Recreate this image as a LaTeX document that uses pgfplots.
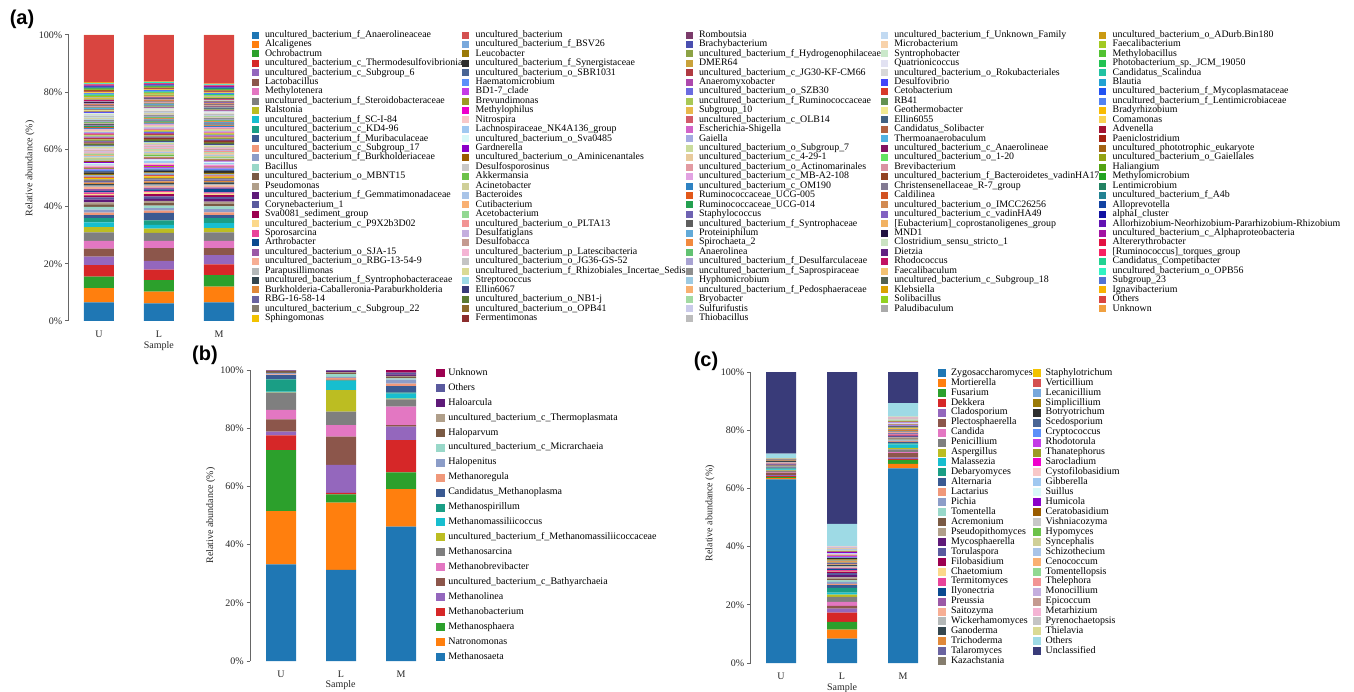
\documentclass[border=0pt]{standalone}
\usepackage{fontspec}
\setmainfont{Liberation Serif}
\newfontfamily\panelfont{Liberation Sans}
\usepackage{pgfplots}
\pgfplotsset{compat=1.18}
\definecolor{c1}{HTML}{1F77B4}\definecolor{c2}{HTML}{FF7F0E}\definecolor{c3}{HTML}{2CA02C}\definecolor{c4}{HTML}{D62728}
\definecolor{c5}{HTML}{9467BD}\definecolor{c6}{HTML}{8C564B}\definecolor{c7}{HTML}{E377C2}\definecolor{c8}{HTML}{7F7F7F}
\definecolor{c9}{HTML}{BCBD22}\definecolor{c10}{HTML}{17BECF}\definecolor{c11}{HTML}{1A9E85}\definecolor{c12}{HTML}{3A5A92}
\definecolor{c13}{HTML}{F0987A}\definecolor{c14}{HTML}{8C9DC8}\definecolor{c15}{HTML}{99D8C9}\definecolor{c16}{HTML}{7A5A44}
\definecolor{c17}{HTML}{B09F8A}\definecolor{c18}{HTML}{5E1A78}\definecolor{c19}{HTML}{5A5A9E}\definecolor{c20}{HTML}{9C0050}
\definecolor{c21}{HTML}{FBD88A}\definecolor{c22}{HTML}{E8449A}\definecolor{c23}{HTML}{0A4A90}\definecolor{c24}{HTML}{9B59A6}
\definecolor{c25}{HTML}{F7AE94}\definecolor{c26}{HTML}{B4B8B8}\definecolor{c27}{HTML}{35474F}\definecolor{c28}{HTML}{E0893A}
\definecolor{c29}{HTML}{6A63A0}\definecolor{c30}{HTML}{857D6E}\definecolor{c31}{HTML}{F2C200}\definecolor{c32}{HTML}{D45050}
\definecolor{c33}{HTML}{78A8DC}\definecolor{c34}{HTML}{9A7A08}\definecolor{c35}{HTML}{2E2E2E}\definecolor{c36}{HTML}{4A6594}
\definecolor{c37}{HTML}{5B8FF9}\definecolor{c38}{HTML}{C43BE6}\definecolor{c39}{HTML}{9B9B25}\definecolor{c40}{HTML}{EE00CC}
\definecolor{c41}{HTML}{F8C8C8}\definecolor{c42}{HTML}{A0C8F0}\definecolor{c43}{HTML}{D8F8F8}\definecolor{c44}{HTML}{8A00C8}
\definecolor{c45}{HTML}{9A5C00}\definecolor{c46}{HTML}{C8C8C8}\definecolor{c47}{HTML}{6CC24A}\definecolor{c48}{HTML}{CFCF98}
\definecolor{c49}{HTML}{A9C4E8}\definecolor{c50}{HTML}{F9B072}\definecolor{c51}{HTML}{92D892}\definecolor{c52}{HTML}{F29494}
\definecolor{c53}{HTML}{C4AEDE}\definecolor{c54}{HTML}{C49A90}\definecolor{c55}{HTML}{F4B4D4}\definecolor{c56}{HTML}{C4C4C4}
\definecolor{c57}{HTML}{DADA94}\definecolor{c58}{HTML}{9EDAE5}\definecolor{c59}{HTML}{393B79}\definecolor{c60}{HTML}{5A7A32}
\definecolor{c61}{HTML}{8C6A2A}\definecolor{c62}{HTML}{8C2D2D}\definecolor{c63}{HTML}{7B3B6B}\definecolor{c64}{HTML}{4A4FB0}
\definecolor{c65}{HTML}{8CA245}\definecolor{c66}{HTML}{C9A23A}\definecolor{c67}{HTML}{B03A42}\definecolor{c68}{HTML}{AD48AD}
\definecolor{c69}{HTML}{6B6BE0}\definecolor{c70}{HTML}{A8C855}\definecolor{c71}{HTML}{E8B84C}\definecolor{c72}{HTML}{D25A6A}
\definecolor{c73}{HTML}{D264C8}\definecolor{c74}{HTML}{A4AAE2}\definecolor{c75}{HTML}{CADC9C}\definecolor{c76}{HTML}{E8CA9C}
\definecolor{c77}{HTML}{E29AA2}\definecolor{c78}{HTML}{E2A2E2}\definecolor{c79}{HTML}{2E82C2}\definecolor{c80}{HTML}{E2581A}
\definecolor{c81}{HTML}{24A050}\definecolor{c82}{HTML}{6E62B2}\definecolor{c83}{HTML}{5E5E5E}\definecolor{c84}{HTML}{62AAD8}
\definecolor{c85}{HTML}{F28A3E}\definecolor{c86}{HTML}{62C272}\definecolor{c87}{HTML}{A8A2D2}\definecolor{c88}{HTML}{8E8E8E}
\definecolor{c89}{HTML}{9CCAE2}\definecolor{c90}{HTML}{F8B070}\definecolor{c91}{HTML}{A2DAA2}\definecolor{c92}{HTML}{CACAEA}
\definecolor{c93}{HTML}{BCBCBC}\definecolor{c94}{HTML}{C2DAF2}\definecolor{c95}{HTML}{F8D2AA}\definecolor{c96}{HTML}{CAE8CA}
\definecolor{c97}{HTML}{E2E2F2}\definecolor{c98}{HTML}{D8D8D8}\definecolor{c99}{HTML}{4444F8}\definecolor{c100}{HTML}{D83A2A}
\definecolor{c101}{HTML}{629252}\definecolor{c102}{HTML}{F2EA92}\definecolor{c103}{HTML}{426282}\definecolor{c104}{HTML}{B26242}
\definecolor{c105}{HTML}{52B2E2}\definecolor{c106}{HTML}{821262}\definecolor{c107}{HTML}{62E262}\definecolor{c108}{HTML}{DA92A2}
\definecolor{c109}{HTML}{924222}\definecolor{c110}{HTML}{827A92}\definecolor{c111}{HTML}{D25222}\definecolor{c112}{HTML}{D28A52}
\definecolor{c113}{HTML}{8262C2}\definecolor{c114}{HTML}{F2B262}\definecolor{c115}{HTML}{221242}\definecolor{c116}{HTML}{CAE2C2}
\definecolor{c117}{HTML}{622282}\definecolor{c118}{HTML}{C21262}\definecolor{c119}{HTML}{F2C272}\definecolor{c120}{HTML}{526252}
\definecolor{c121}{HTML}{DAA202}\definecolor{c122}{HTML}{92D222}\definecolor{c123}{HTML}{AAAAAA}\definecolor{c124}{HTML}{CA9A12}
\definecolor{c125}{HTML}{A2CA22}\definecolor{c126}{HTML}{52C232}\definecolor{c127}{HTML}{22C252}\definecolor{c128}{HTML}{22C2A2}
\definecolor{c129}{HTML}{22A2D2}\definecolor{c130}{HTML}{2252F2}\definecolor{c131}{HTML}{5282F2}\definecolor{c132}{HTML}{F8BA02}
\definecolor{c133}{HTML}{F8D252}\definecolor{c134}{HTML}{A21232}\definecolor{c135}{HTML}{A22212}\definecolor{c136}{HTML}{A26212}
\definecolor{c137}{HTML}{92A212}\definecolor{c138}{HTML}{52A212}\definecolor{c139}{HTML}{22A222}\definecolor{c140}{HTML}{228262}
\definecolor{c141}{HTML}{228292}\definecolor{c142}{HTML}{1242A2}\definecolor{c143}{HTML}{1212A2}\definecolor{c144}{HTML}{6212B2}
\definecolor{c145}{HTML}{A212A2}\definecolor{c146}{HTML}{E21242}\definecolor{c147}{HTML}{F82262}\definecolor{c148}{HTML}{22D292}
\definecolor{c149}{HTML}{32F2C2}\definecolor{c150}{HTML}{5272D2}\definecolor{c151}{HTML}{F8B202}\definecolor{c152}{HTML}{D94540}
\definecolor{c153}{HTML}{F0A040}
\definecolor{axgray}{HTML}{666666}
\pgfplotsset{
  sqA/.style={legend image code/.code={\fill[##1,draw=none] (0pt,-3.5pt) rectangle (7pt,3.5pt);\path (13.3pt,0pt);}},
  sqB/.style={legend image code/.code={\fill[##1,draw=none] (0pt,-4pt) rectangle (9pt,4pt);\path (12.3pt,0pt);}},
  sqC/.style={legend image code/.code={\fill[##1,draw=none] (0pt,-4pt) rectangle (8pt,4pt);\path (13pt,0pt);}},
  stackbase/.style={
    ybar stacked, scale only axis, bar width=30pt,
    ymin=0, ymax=100, ytick={0,20,40,60,80,100},
    yticklabels={0\%,20\%,40\%,60\%,80\%,100\%},
    xtick={0,1,2}, xticklabels={U,L,M},
    axis x line*=bottom, axis y line*=left,
    x axis line style={draw=none},
    y axis line style={-, draw=axgray, line width=1pt},
    xtick style={draw=none},
    ytick style={draw=axgray, line width=1pt},
    tick align=outside, major tick length=3.5pt,
    tick label style={font=\fontsize{10}{12}\selectfont, text=black!85},
    label style={font=\fontsize{10}{12}\selectfont, text=black!85},
    yticklabel style={anchor=east, inner sep=0pt, xshift=-2.5pt},
    xticklabel style={anchor=north, inner sep=0pt, yshift=-6pt},
    ylabel={Relative abundance (\%)},
    xlabel={Sample},
    legend cell align=left,
    legend style={draw=none, fill=none, inner sep=0pt, outer sep=0pt,
      nodes={inner sep=0pt, outer sep=0pt}, row sep=0pt, column sep=0pt,
      /tikz/every even column/.append style={column sep=0pt}},
  },
}
\begin{document}
\begin{tikzpicture}
\useasboundingbox (0pt,0pt) rectangle (1354pt,-692pt);
% ---------------- (a) ----------------
\begin{axis}[stackbase, at={(68.5pt,-321pt)}, anchor=south west,
  width=180.5pt, height=286pt, xmin=-0.508, xmax=2.5,
  ylabel style={at={(axis description cs:-0.2133,0.533)}, anchor=center},
  xlabel style={at={(axis description cs:0.5,-0.0874)}, anchor=center},
  legend style={at={(axis description cs:1.015,1.0164)}, anchor=north west,
    font=\fontsize{9.9}{9.9}\selectfont, nodes={text height=6.97pt, text depth=2.47pt}},
  transpose legend, legend columns=31,
  bb/.style={fill=#1, draw=none, sqA}]
\addplot[bb=c1] coordinates {(0,6.5)(1,6.2)(2,6.5)};\addlegendentry{uncultured\_bacterium\_f\_Anaerolineaceae}
\addplot[bb=c2] coordinates {(0,5.0)(1,4.1)(2,5.5)};\addlegendentry{Alcaligenes}
\addplot[bb=c3] coordinates {(0,4.0)(1,4.0)(2,4.0)};\addlegendentry{Ochrobactrum}
\addplot[bb=c4] coordinates {(0,4.0)(1,3.7)(2,3.8)};\addlegendentry{uncultured\_bacterium\_c\_Thermodesulfovibrionia}
\addplot[bb=c5] coordinates {(0,3.0)(1,3.0)(2,3.2)};\addlegendentry{uncultured\_bacterium\_c\_Subgroup\_6}
\addplot[bb=c6] coordinates {(0,2.8)(1,4.5)(2,2.5)};\addlegendentry{Lactobacillus}
\addplot[bb=c7] coordinates {(0,2.7)(1,2.5)(2,2.5)};\addlegendentry{Methylotenera}
\addplot[bb=c8] coordinates {(0,3.0)(1,2.8)(2,3.0)};\addlegendentry{uncultured\_bacterium\_f\_Steroidobacteraceae}
\addplot[bb=c9] coordinates {(0,1.8)(1,1.5)(2,1.5)};\addlegendentry{Ralstonia}
\addplot[bb=c10] coordinates {(0,1.7)(1,1.3)(2,1.7)};\addlegendentry{uncultured\_bacterium\_f\_SC-I-84}
\addplot[bb=c11] coordinates {(0,1.5)(1,1.6)(2,1.8)};\addlegendentry{uncultured\_bacterium\_c\_KD4-96}
\addplot[bb=c12] coordinates {(0,1.0)(1,2.6)(2,1.0)};\addlegendentry{uncultured\_bacterium\_f\_Muribaculaceae}
\addplot[bb=c13] coordinates {(0,0.9)(1,0.8)(2,1.0)};\addlegendentry{uncultured\_bacterium\_c\_Subgroup\_17}
\addplot[bb=c14] coordinates {(0,1.0)(1,0.9)(2,1.1)};\addlegendentry{uncultured\_bacterium\_f\_Burkholderiaceae}
\addplot[bb=c15] coordinates {(0,1.0)(1,0.8)(2,1.0)};\addlegendentry{Bacillus}
\addplot[bb=c16] coordinates {(0,0.9)(1,0.9)(2,0.9)};\addlegendentry{uncultured\_bacterium\_o\_MBNT15}
\addplot[bb=c17] coordinates {(0,0.7)(1,0.8)(2,0.7)};\addlegendentry{Pseudomonas}
\addplot[bb=c18] coordinates {(0,0.9)(1,0.7)(2,0.9)};\addlegendentry{uncultured\_bacterium\_f\_Gemmatimonadaceae}
\addplot[bb=c19] coordinates {(0,0.8)(1,0.9)(2,0.8)};\addlegendentry{Corynebacterium\_1}
\addplot[bb=c20] coordinates {(0,0.7)(1,0.8)(2,0.6)};\addlegendentry{Sva0081\_sediment\_group}
\addplot[bb=c21] coordinates {(0,0.5)(1,0.6)(2,0.5)};\addlegendentry{uncultured\_bacterium\_c\_P9X2b3D02}
\addplot[bb=c22] coordinates {(0,0.6)(1,0.5)(2,0.5)};\addlegendentry{Sporosarcina}
\addplot[bb=c23] coordinates {(0,0.5)(1,0.5)(2,1.2)};\addlegendentry{Arthrobacter}
\addplot[bb=c24] coordinates {(0,0.6)(1,0.6)(2,0.5)};\addlegendentry{uncultured\_bacterium\_o\_SJA-15}
\addplot[bb=c25] coordinates {(0,0.7)(1,0.6)(2,0.7)};\addlegendentry{uncultured\_bacterium\_o\_RBG-13-54-9}
\addplot[bb=c26] coordinates {(0,0.5)(1,0.5)(2,0.5)};\addlegendentry{Parapusillimonas}
\addplot[bb=c27] coordinates {(0,0.6)(1,0.6)(2,0.6)};\addlegendentry{uncultured\_bacterium\_f\_Syntrophobacteraceae}
\addplot[bb=c28] coordinates {(0,0.5)(1,0.5)(2,0.5)};\addlegendentry{Burkholderia-Caballeronia-Paraburkholderia}
\addplot[bb=c29] coordinates {(0,0.5)(1,0.6)(2,0.5)};\addlegendentry{RBG-16-58-14}
\addplot[bb=c30] coordinates {(0,0.6)(1,0.6)(2,0.5)};\addlegendentry{uncultured\_bacterium\_c\_Subgroup\_22}
\addplot[bb=c31] coordinates {(0,0.5)(1,0.6)(2,0.5)};\addlegendentry{Sphingomonas}
\addplot[bb=c32] coordinates {(0,0.5)(1,0.5)(2,0.4)};\addlegendentry{uncultured\_bacterium}
\addplot[bb=c33] coordinates {(0,0.4)(1,0.5)(2,0.4)};\addlegendentry{uncultured\_bacterium\_f\_BSV26}
\addplot[bb=c34] coordinates {(0,0.5)(1,0.4)(2,0.5)};\addlegendentry{Leucobacter}
\addplot[bb=c35] coordinates {(0,0.6)(1,0.5)(2,0.6)};\addlegendentry{uncultured\_bacterium\_f\_Synergistaceae}
\addplot[bb=c36] coordinates {(0,0.5)(1,0.5)(2,0.4)};\addlegendentry{uncultured\_bacterium\_o\_SBR1031}
\addplot[bb=c37] coordinates {(0,0.4)(1,0.4)(2,0.5)};\addlegendentry{Haematomicrobium}
\addplot[bb=c38] coordinates {(0,0.3)(1,0.4)(2,0.3)};\addlegendentry{BD1-7\_clade}
\addplot[bb=c39] coordinates {(0,0.4)(1,0.4)(2,0.4)};\addlegendentry{Brevundimonas}
\addplot[bb=c40] coordinates {(0,0.3)(1,0.4)(2,0.3)};\addlegendentry{Methylophilus}
\addplot[bb=c41] coordinates {(0,0.4)(1,0.5)(2,0.4)};\addlegendentry{Nitrospira}
\addplot[bb=c42] coordinates {(0,0.5)(1,0.9)(2,0.5)};\addlegendentry{Lachnospiraceae\_NK4A136\_group}
\addplot[bb=c43] coordinates {(0,0.4)(1,0.5)(2,0.5)};\addlegendentry{uncultured\_bacterium\_o\_Sva0485}
\addplot[bb=c44] coordinates {(0,0.4)(1,0.3)(2,0.4)};\addlegendentry{Gardnerella}
\addplot[bb=c45] coordinates {(0,0.4)(1,0.4)(2,0.4)};\addlegendentry{uncultured\_bacterium\_o\_Aminicenantales}
\addplot[bb=c46] coordinates {(0,0.4)(1,0.4)(2,0.4)};\addlegendentry{Desulfosporosinus}
\addplot[bb=c47] coordinates {(0,0.3)(1,0.6)(2,0.3)};\addlegendentry{Akkermansia}
\addplot[bb=c48] coordinates {(0,0.5)(1,0.5)(2,0.5)};\addlegendentry{Acinetobacter}
\addplot[bb=c49] coordinates {(0,0.5)(1,0.5)(2,0.5)};\addlegendentry{Bacteroides}
\addplot[bb=c50] coordinates {(0,0.4)(1,0.4)(2,0.4)};\addlegendentry{Cutibacterium}
\addplot[bb=c51] coordinates {(0,0.4)(1,0.4)(2,0.4)};\addlegendentry{Acetobacterium}
\addplot[bb=c52] coordinates {(0,0.4)(1,0.4)(2,0.4)};\addlegendentry{uncultured\_bacterium\_o\_PLTA13}
\addplot[bb=c53] coordinates {(0,0.4)(1,0.3)(2,0.4)};\addlegendentry{Desulfatiglans}
\addplot[bb=c54] coordinates {(0,0.4)(1,0.4)(2,0.4)};\addlegendentry{Desulfobacca}
\addplot[bb=c55] coordinates {(0,0.3)(1,0.4)(2,0.3)};\addlegendentry{uncultured\_bacterium\_p\_Latescibacteria}
\addplot[bb=c56] coordinates {(0,0.4)(1,0.4)(2,0.4)};\addlegendentry{uncultured\_bacterium\_o\_JG36-GS-52}
\addplot[bb=c57] coordinates {(0,0.4)(1,0.4)(2,0.4)};\addlegendentry{uncultured\_bacterium\_f\_Rhizobiales\_Incertae\_Sedis}
\addplot[bb=c58] coordinates {(0,0.3)(1,0.3)(2,0.3)};\addlegendentry{Streptococcus}
\addplot[bb=c59] coordinates {(0,0.3)(1,0.3)(2,0.3)};\addlegendentry{Ellin6067}
\addplot[bb=c60] coordinates {(0,0.4)(1,0.4)(2,0.4)};\addlegendentry{uncultured\_bacterium\_o\_NB1-j}
\addplot[bb=c61] coordinates {(0,0.3)(1,0.3)(2,0.3)};\addlegendentry{uncultured\_bacterium\_o\_OPB41}
\addplot[bb=c62] coordinates {(0,0.3)(1,0.3)(2,0.3)};\addlegendentry{Fermentimonas}
\addplot[bb=c63] coordinates {(0,0.3)(1,0.3)(2,0.3)};\addlegendentry{Romboutsia}
\addplot[bb=c64] coordinates {(0,0.3)(1,0.3)(2,0.3)};\addlegendentry{Brachybacterium}
\addplot[bb=c65] coordinates {(0,0.4)(1,0.3)(2,0.4)};\addlegendentry{uncultured\_bacterium\_f\_Hydrogenophilaceae}
\addplot[bb=c66] coordinates {(0,0.2)(1,0.3)(2,0.3)};\addlegendentry{DMER64}
\addplot[bb=c67] coordinates {(0,0.3)(1,0.3)(2,0.3)};\addlegendentry{uncultured\_bacterium\_c\_JG30-KF-CM66}
\addplot[bb=c68] coordinates {(0,0.3)(1,0.3)(2,0.3)};\addlegendentry{Anaeromyxobacter}
\addplot[bb=c69] coordinates {(0,0.3)(1,0.4)(2,0.3)};\addlegendentry{uncultured\_bacterium\_o\_SZB30}
\addplot[bb=c70] coordinates {(0,0.4)(1,0.3)(2,0.3)};\addlegendentry{uncultured\_bacterium\_f\_Ruminococcaceae}
\addplot[bb=c71] coordinates {(0,0.2)(1,0.3)(2,0.3)};\addlegendentry{Subgroup\_10}
\addplot[bb=c72] coordinates {(0,0.3)(1,0.3)(2,0.2)};\addlegendentry{uncultured\_bacterium\_c\_OLB14}
\addplot[bb=c73] coordinates {(0,0.3)(1,0.3)(2,0.3)};\addlegendentry{Escherichia-Shigella}
\addplot[bb=c74] coordinates {(0,0.3)(1,0.4)(2,0.3)};\addlegendentry{Gaiella}
\addplot[bb=c75] coordinates {(0,0.2)(1,0.3)(2,0.3)};\addlegendentry{uncultured\_bacterium\_o\_Subgroup\_7}
\addplot[bb=c76] coordinates {(0,0.4)(1,0.3)(2,0.3)};\addlegendentry{uncultured\_bacterium\_c\_4-29-1}
\addplot[bb=c77] coordinates {(0,0.3)(1,0.3)(2,0.4)};\addlegendentry{uncultured\_bacterium\_o\_Actinomarinales}
\addplot[bb=c78] coordinates {(0,0.3)(1,0.2)(2,0.3)};\addlegendentry{uncultured\_bacterium\_c\_MB-A2-108}
\addplot[bb=c79] coordinates {(0,0.3)(1,0.3)(2,0.3)};\addlegendentry{uncultured\_bacterium\_c\_OM190}
\addplot[bb=c80] coordinates {(0,0.3)(1,0.3)(2,0.3)};\addlegendentry{Ruminococcaceae\_UCG-005}
\addplot[bb=c81] coordinates {(0,0.3)(1,0.4)(2,0.3)};\addlegendentry{Ruminococcaceae\_UCG-014}
\addplot[bb=c82] coordinates {(0,0.3)(1,0.3)(2,0.3)};\addlegendentry{Staphylococcus}
\addplot[bb=c83] coordinates {(0,0.4)(1,0.3)(2,0.3)};\addlegendentry{uncultured\_bacterium\_f\_Syntrophaceae}
\addplot[bb=c84] coordinates {(0,0.2)(1,0.3)(2,0.3)};\addlegendentry{Proteiniphilum}
\addplot[bb=c85] coordinates {(0,0.3)(1,0.3)(2,0.4)};\addlegendentry{Spirochaeta\_2}
\addplot[bb=c86] coordinates {(0,0.3)(1,0.4)(2,0.3)};\addlegendentry{Anaerolinea}
\addplot[bb=c87] coordinates {(0,0.3)(1,0.3)(2,0.3)};\addlegendentry{uncultured\_bacterium\_f\_Desulfarculaceae}
\addplot[bb=c88] coordinates {(0,0.3)(1,0.3)(2,0.3)};\addlegendentry{uncultured\_bacterium\_f\_Saprospiraceae}
\addplot[bb=c89] coordinates {(0,0.3)(1,0.2)(2,0.2)};\addlegendentry{Hyphomicrobium}
\addplot[bb=c90] coordinates {(0,0.3)(1,0.3)(2,0.3)};\addlegendentry{uncultured\_bacterium\_f\_Pedosphaeraceae}
\addplot[bb=c91] coordinates {(0,0.3)(1,0.3)(2,0.3)};\addlegendentry{Bryobacter}
\addplot[bb=c92] coordinates {(0,0.3)(1,0.3)(2,0.3)};\addlegendentry{Sulfurifustis}
\addplot[bb=c93] coordinates {(0,0.3)(1,0.3)(2,0.3)};\addlegendentry{Thiobacillus}
\addplot[bb=c94] coordinates {(0,0.2)(1,0.2)(2,0.2)};\addlegendentry{uncultured\_bacterium\_f\_Unknown\_Family}
\addplot[bb=c95] coordinates {(0,0.2)(1,0.2)(2,0.2)};\addlegendentry{Microbacterium}
\addplot[bb=c96] coordinates {(0,0.3)(1,0.2)(2,0.2)};\addlegendentry{Syntrophobacter}
\addplot[bb=c97] coordinates {(0,0.2)(1,0.2)(2,0.2)};\addlegendentry{Quatrionicoccus}
\addplot[bb=c98] coordinates {(0,0.2)(1,0.2)(2,0.2)};\addlegendentry{uncultured\_bacterium\_o\_Rokubacteriales}
\addplot[bb=c99] coordinates {(0,0.2)(1,0.2)(2,0.3)};\addlegendentry{Desulfovibrio}
\addplot[bb=c100] coordinates {(0,0.2)(1,0.2)(2,0.2)};\addlegendentry{Cetobacterium}
\addplot[bb=c101] coordinates {(0,0.3)(1,0.2)(2,0.2)};\addlegendentry{RB41}
\addplot[bb=c102] coordinates {(0,0.2)(1,0.2)(2,0.2)};\addlegendentry{Geothermobacter}
\addplot[bb=c103] coordinates {(0,0.2)(1,0.2)(2,0.2)};\addlegendentry{Ellin6055}
\addplot[bb=c104] coordinates {(0,0.2)(1,0.2)(2,0.2)};\addlegendentry{Candidatus\_Solibacter}
\addplot[bb=c105] coordinates {(0,0.3)(1,0.2)(2,0.2)};\addlegendentry{Thermoanaerobaculum}
\addplot[bb=c106] coordinates {(0,0.2)(1,0.2)(2,0.2)};\addlegendentry{uncultured\_bacterium\_c\_Anaerolineae}
\addplot[bb=c107] coordinates {(0,0.2)(1,0.2)(2,0.2)};\addlegendentry{uncultured\_bacterium\_o\_1-20}
\addplot[bb=c108] coordinates {(0,0.2)(1,0.2)(2,0.2)};\addlegendentry{Brevibacterium}
\addplot[bb=c109] coordinates {(0,0.2)(1,0.2)(2,0.2)};\addlegendentry{uncultured\_bacterium\_f\_Bacteroidetes\_vadinHA17}
\addplot[bb=c110] coordinates {(0,0.3)(1,0.2)(2,0.2)};\addlegendentry{Christensenellaceae\_R-7\_group}
\addplot[bb=c111] coordinates {(0,0.2)(1,0.2)(2,0.2)};\addlegendentry{Caldilinea}
\addplot[bb=c112] coordinates {(0,0.2)(1,0.2)(2,0.3)};\addlegendentry{uncultured\_bacterium\_o\_IMCC26256}
\addplot[bb=c113] coordinates {(0,0.2)(1,0.2)(2,0.2)};\addlegendentry{uncultured\_bacterium\_c\_vadinHA49}
\addplot[bb=c114] coordinates {(0,0.2)(1,0.2)(2,0.2)};\addlegendentry{{[}Eubacterium{]}\_coprostanoligenes\_group}
\addplot[bb=c115] coordinates {(0,0.2)(1,0.2)(2,0.2)};\addlegendentry{MND1}
\addplot[bb=c116] coordinates {(0,0.2)(1,0.2)(2,0.2)};\addlegendentry{Clostridium\_sensu\_stricto\_1}
\addplot[bb=c117] coordinates {(0,0.2)(1,0.2)(2,0.2)};\addlegendentry{Dietzia}
\addplot[bb=c118] coordinates {(0,0.3)(1,0.2)(2,0.2)};\addlegendentry{Rhodococcus}
\addplot[bb=c119] coordinates {(0,0.2)(1,0.2)(2,0.2)};\addlegendentry{Faecalibaculum}
\addplot[bb=c120] coordinates {(0,0.2)(1,0.2)(2,0.2)};\addlegendentry{uncultured\_bacterium\_c\_Subgroup\_18}
\addplot[bb=c121] coordinates {(0,0.2)(1,0.2)(2,0.2)};\addlegendentry{Klebsiella}
\addplot[bb=c122] coordinates {(0,0.2)(1,0.2)(2,0.2)};\addlegendentry{Solibacillus}
\addplot[bb=c123] coordinates {(0,0.2)(1,0.2)(2,0.2)};\addlegendentry{Paludibaculum}
\addlegendimage{empty legend}\addlegendentry{\mbox{}}
\addplot[bb=c124] coordinates {(0,0.2)(1,0.2)(2,0.1)};\addlegendentry{uncultured\_bacterium\_o\_ADurb.Bin180}
\addplot[bb=c125] coordinates {(0,0.2)(1,0.1)(2,0.2)};\addlegendentry{Faecalibacterium}
\addplot[bb=c126] coordinates {(0,0.2)(1,0.2)(2,0.1)};\addlegendentry{Methylobacillus}
\addplot[bb=c127] coordinates {(0,0.2)(1,0.1)(2,0.2)};\addlegendentry{Photobacterium\_sp.\_JCM\_19050}
\addplot[bb=c128] coordinates {(0,0.2)(1,0.2)(2,0.2)};\addlegendentry{Candidatus\_Scalindua}
\addplot[bb=c129] coordinates {(0,0.2)(1,0.2)(2,0.1)};\addlegendentry{Blautia}
\addplot[bb=c130] coordinates {(0,0.1)(1,0.1)(2,0.2)};\addlegendentry{uncultured\_bacterium\_f\_Mycoplasmataceae}
\addplot[bb=c131] coordinates {(0,0.2)(1,0.2)(2,0.2)};\addlegendentry{uncultured\_bacterium\_f\_Lentimicrobiaceae}
\addplot[bb=c132] coordinates {(0,0.2)(1,0.2)(2,0.1)};\addlegendentry{Bradyrhizobium}
\addplot[bb=c133] coordinates {(0,0.2)(1,0.1)(2,0.2)};\addlegendentry{Comamonas}
\addplot[bb=c134] coordinates {(0,0.2)(1,0.2)(2,0.2)};\addlegendentry{Advenella}
\addplot[bb=c135] coordinates {(0,0.2)(1,0.1)(2,0.1)};\addlegendentry{Paeniclostridium}
\addplot[bb=c136] coordinates {(0,0.2)(1,0.2)(2,0.2)};\addlegendentry{uncultured\_phototrophic\_eukaryote}
\addplot[bb=c137] coordinates {(0,0.2)(1,0.2)(2,0.1)};\addlegendentry{uncultured\_bacterium\_o\_Gaiellales}
\addplot[bb=c138] coordinates {(0,0.2)(1,0.1)(2,0.2)};\addlegendentry{Haliangium}
\addplot[bb=c139] coordinates {(0,0.2)(1,0.2)(2,0.2)};\addlegendentry{Methylomicrobium}
\addplot[bb=c140] coordinates {(0,0.1)(1,0.1)(2,0.1)};\addlegendentry{Lentimicrobium}
\addplot[bb=c141] coordinates {(0,0.2)(1,0.2)(2,0.2)};\addlegendentry{uncultured\_bacterium\_f\_A4b}
\addplot[bb=c142] coordinates {(0,0.2)(1,0.1)(2,0.2)};\addlegendentry{Alloprevotella}
\addplot[bb=c143] coordinates {(0,0.2)(1,0.2)(2,0.1)};\addlegendentry{alphaI\_cluster}
\addplot[bb=c144] coordinates {(0,0.2)(1,0.1)(2,0.2)};\addlegendentry{Allorhizobium-Neorhizobium-Pararhizobium-Rhizobium}
\addplot[bb=c145] coordinates {(0,0.2)(1,0.2)(2,0.2)};\addlegendentry{uncultured\_bacterium\_c\_Alphaproteobacteria}
\addplot[bb=c146] coordinates {(0,0.2)(1,0.1)(2,0.1)};\addlegendentry{Altererythrobacter}
\addplot[bb=c147] coordinates {(0,0.1)(1,0.2)(2,0.2)};\addlegendentry{{[}Ruminococcus{]}\_torques\_group}
\addplot[bb=c148] coordinates {(0,0.2)(1,0.1)(2,0.1)};\addlegendentry{Candidatus\_Competibacter}
\addplot[bb=c149] coordinates {(0,0.2)(1,0.2)(2,0.2)};\addlegendentry{uncultured\_bacterium\_o\_OPB56}
\addplot[bb=c150] coordinates {(0,0.2)(1,0.1)(2,0.1)};\addlegendentry{Subgroup\_23}
\addplot[bb=c151] coordinates {(0,0.2)(1,0.2)(2,0.2)};\addlegendentry{Ignavibacterium}
\addplot[bb=c152] coordinates {(0,16.45)(1,16.15)(2,16.95)};\addlegendentry{Others}
\addplot[bb=c153] coordinates {(0,0.05)(1,0.05)(2,0.05)};\addlegendentry{Unknown}
\addlegendimage{empty legend}\addlegendentry{\mbox{}}
\end{axis}
% ---------------- (b) ----------------
\begin{axis}[stackbase, at={(250pt,-661pt)}, anchor=south west,
  width=181pt, height=291pt, xmin=-0.5167, xmax=2.5,
  ylabel style={at={(axis description cs:-0.217,0.5)}, anchor=center},
  xlabel style={at={(axis description cs:0.5,-0.0825)}, anchor=center},
  legend style={at={(axis description cs:1.0276,1.0155)}, anchor=north west,
    font=\fontsize{10}{10}\selectfont, nodes={text height=9.73pt, text depth=5.22pt}},
  reverse legend,
  bb/.style={fill=#1, draw=none, sqB}]
\addplot[bb=c1] coordinates {(0,33.2)(1,31.3)(2,46.2)};\addlegendentry{Methanosaeta}
\addplot[bb=c2] coordinates {(0,18.3)(1,23.1)(2,12.9)};\addlegendentry{Natronomonas}
\addplot[bb=c3] coordinates {(0,21.0)(1,2.9)(2,5.7)};\addlegendentry{Methanosphaera}
\addplot[bb=c4] coordinates {(0,5.0)(1,0.5)(2,11.1)};\addlegendentry{Methanobacterium}
\addplot[bb=c5] coordinates {(0,1.3)(1,9.6)(2,4.6)};\addlegendentry{Methanolinea}
\addplot[bb=c6] coordinates {(0,4.2)(1,9.7)(2,0.6)};\addlegendentry{uncultured\_bacterium\_c\_Bathyarchaeia}
\addplot[bb=c7] coordinates {(0,3.3)(1,4.0)(2,6.3)};\addlegendentry{Methanobrevibacter}
\addplot[bb=c8] coordinates {(0,5.9)(1,4.6)(2,2.5)};\addlegendentry{Methanosarcina}
\addplot[bb=c9] coordinates {(0,0.1)(1,7.4)(2,0.3)};\addlegendentry{uncultured\_bacterium\_f\_Methanomassiliicoccaceae}
\addplot[bb=c10] coordinates {(0,0.3)(1,3.1)(2,1.7)};\addlegendentry{Methanomassiliicoccus}
\addplot[bb=c11] coordinates {(0,4.2)(1,0.2)(2,0.3)};\addlegendentry{Methanospirillum}
\addplot[bb=c12] coordinates {(0,1.4)(1,0.2)(2,2.3)};\addlegendentry{Candidatus\_Methanoplasma}
\addplot[bb=c13] coordinates {(0,0.3)(1,0.7)(2,0.8)};\addlegendentry{Methanoregula}
\addplot[bb=c14] coordinates {(0,0.4)(1,0.3)(2,1.4)};\addlegendentry{Halopenitus}
\addplot[bb=c15] coordinates {(0,0.1)(1,1.0)(2,0.4)};\addlegendentry{uncultured\_bacterium\_c\_Micrarchaeia}
\addplot[bb=c16] coordinates {(0,0.6)(1,0.5)(2,0.5)};\addlegendentry{Haloparvum}
\addplot[bb=c17] coordinates {(0,0.1)(1,0.2)(2,0.4)};\addlegendentry{uncultured\_bacterium\_c\_Thermoplasmata}
\addplot[bb=c18] coordinates {(0,0.1)(1,0.4)(2,0.5)};\addlegendentry{Haloarcula}
\addplot[bb=c19] coordinates {(0,0.1)(1,0.2)(2,0.6)};\addlegendentry{Others}
\addplot[bb=c20] coordinates {(0,0.1)(1,0.1)(2,0.9)};\addlegendentry{Unknown}
\end{axis}
% ---------------- (c) ----------------
\begin{axis}[stackbase, at={(750.5pt,-663pt)}, anchor=south west,
  width=183pt, height=291pt, xmin=-0.5, xmax=2.5,
  ylabel style={at={(axis description cs:-0.2213,0.515)}, anchor=center},
  xlabel style={at={(axis description cs:0.5,-0.086)}, anchor=center},
  legend style={at={(axis description cs:1.0246,1.0137)}, anchor=north west,
    font=\fontsize{10}{10}\selectfont, nodes={text height=7.22pt, text depth=2.72pt}},
  transpose legend, legend columns=30,
  bb/.style={fill=#1, draw=none, sqC}]
\addplot[bb=c1] coordinates {(0,63.1)(1,8.4)(2,66.9)};\addlegendentry{Zygosaccharomyces}
\addplot[bb=c2] coordinates {(0,0.4)(1,3.1)(2,1.5)};\addlegendentry{Mortierella}
\addplot[bb=c3] coordinates {(0,0.5)(1,2.6)(2,1.4)};\addlegendentry{Fusarium}
\addplot[bb=c4] coordinates {(0,0.2)(1,3.2)(2,0.3)};\addlegendentry{Dekkera}
\addplot[bb=c5] coordinates {(0,0.4)(1,1.4)(2,0.5)};\addlegendentry{Cladosporium}
\addplot[bb=c6] coordinates {(0,0.8)(1,0.9)(2,1.5)};\addlegendentry{Plectosphaerella}
\addplot[bb=c7] coordinates {(0,0.3)(1,1.4)(2,0.4)};\addlegendentry{Candida}
\addplot[bb=c8] coordinates {(0,0.4)(1,1.7)(2,0.9)};\addlegendentry{Penicillium}
\addplot[bb=c9] coordinates {(0,0.2)(1,0.8)(2,0.5)};\addlegendentry{Aspergillus}
\addplot[bb=c10] coordinates {(0,0.2)(1,0.7)(2,1.2)};\addlegendentry{Malassezia}
\addplot[bb=c11] coordinates {(0,0.4)(1,1.6)(2,0.4)};\addlegendentry{Debaryomyces}
\addplot[bb=c12] coordinates {(0,0.3)(1,1.0)(2,0.5)};\addlegendentry{Alternaria}
\addplot[bb=c13] coordinates {(0,0.1)(1,0.4)(2,0.3)};\addlegendentry{Lactarius}
\addplot[bb=c14] coordinates {(0,0.1)(1,0.7)(2,0.2)};\addlegendentry{Pichia}
\addplot[bb=c15] coordinates {(0,0.1)(1,0.5)(2,0.3)};\addlegendentry{Tomentella}
\addplot[bb=c16] coordinates {(0,0.4)(1,0.6)(2,0.4)};\addlegendentry{Acremonium}
\addplot[bb=c17] coordinates {(0,0.2)(1,0.4)(2,0.3)};\addlegendentry{Pseudopithomyces}
\addplot[bb=c18] coordinates {(0,0.1)(1,0.8)(2,0.2)};\addlegendentry{Mycosphaerella}
\addplot[bb=c19] coordinates {(0,0.1)(1,0.7)(2,0.3)};\addlegendentry{Torulaspora}
\addplot[bb=c20] coordinates {(0,0.1)(1,0.5)(2,0.2)};\addlegendentry{Filobasidium}
\addplot[bb=c21] coordinates {(0,0.1)(1,0.2)(2,0.2)};\addlegendentry{Chaetomium}
\addplot[bb=c22] coordinates {(0,0.1)(1,0.3)(2,0.2)};\addlegendentry{Termitomyces}
\addplot[bb=c23] coordinates {(0,0.1)(1,0.4)(2,0.2)};\addlegendentry{Ilyonectria}
\addplot[bb=c24] coordinates {(0,0.1)(1,0.4)(2,0.3)};\addlegendentry{Preussia}
\addplot[bb=c25] coordinates {(0,0.1)(1,0.2)(2,0.2)};\addlegendentry{Saitozyma}
\addplot[bb=c26] coordinates {(0,0.1)(1,0.3)(2,0.2)};\addlegendentry{Wickerhamomyces}
\addplot[bb=c27] coordinates {(0,0.5)(1,0.4)(2,0.3)};\addlegendentry{Ganoderma}
\addplot[bb=c28] coordinates {(0,0.1)(1,0.3)(2,0.2)};\addlegendentry{Trichoderma}
\addplot[bb=c29] coordinates {(0,0.1)(1,0.4)(2,0.2)};\addlegendentry{Talaromyces}
\addplot[bb=c30] coordinates {(0,0.1)(1,0.3)(2,0.2)};\addlegendentry{Kazachstania}
\addplot[bb=c31] coordinates {(0,0.02)(1,0.2)(2,0.2)};\addlegendentry{Staphylotrichum}
\addplot[bb=c32] coordinates {(0,0.02)(1,0.2)(2,0.1)};\addlegendentry{Verticillium}
\addplot[bb=c33] coordinates {(0,0.02)(1,0.2)(2,0.2)};\addlegendentry{Lecanicillium}
\addplot[bb=c34] coordinates {(0,0.02)(1,0.4)(2,0.2)};\addlegendentry{Simplicillium}
\addplot[bb=c35] coordinates {(0,0.02)(1,0.4)(2,0.2)};\addlegendentry{Botryotrichum}
\addplot[bb=c36] coordinates {(0,0.02)(1,0.2)(2,0.2)};\addlegendentry{Scedosporium}
\addplot[bb=c37] coordinates {(0,0.02)(1,0.2)(2,0.1)};\addlegendentry{Cryptococcus}
\addplot[bb=c38] coordinates {(0,0.02)(1,0.4)(2,0.2)};\addlegendentry{Rhodotorula}
\addplot[bb=c39] coordinates {(0,0.02)(1,0.2)(2,0.2)};\addlegendentry{Thanatephorus}
\addplot[bb=c40] coordinates {(0,0.02)(1,0.2)(2,0.1)};\addlegendentry{Sarocladium}
\addplot[bb=c41] coordinates {(0,0.02)(1,0.2)(2,0.2)};\addlegendentry{Cystofilobasidium}
\addplot[bb=c42] coordinates {(0,0.02)(1,0.3)(2,0.2)};\addlegendentry{Gibberella}
\addplot[bb=c43] coordinates {(0,0.02)(1,0.1)(2,0.1)};\addlegendentry{Suillus}
\addplot[bb=c44] coordinates {(0,0.02)(1,0.4)(2,0.2)};\addlegendentry{Humicola}
\addplot[bb=c45] coordinates {(0,0.02)(1,0.2)(2,0.2)};\addlegendentry{Ceratobasidium}
\addplot[bb=c46] coordinates {(0,0.02)(1,0.2)(2,0.1)};\addlegendentry{Vishniacozyma}
\addplot[bb=c47] coordinates {(0,0.02)(1,0.1)(2,0.2)};\addlegendentry{Hypomyces}
\addplot[bb=c48] coordinates {(0,0.02)(1,0.2)(2,0.1)};\addlegendentry{Syncephalis}
\addplot[bb=c49] coordinates {(0,0.02)(1,0.2)(2,0.2)};\addlegendentry{Schizothecium}
\addplot[bb=c50] coordinates {(0,0.02)(1,0.2)(2,0.1)};\addlegendentry{Cenococcum}
\addplot[bb=c51] coordinates {(0,0.02)(1,0.1)(2,0.2)};\addlegendentry{Tomentellopsis}
\addplot[bb=c52] coordinates {(0,0.02)(1,0.1)(2,0.1)};\addlegendentry{Thelephora}
\addplot[bb=c53] coordinates {(0,0.02)(1,0.2)(2,0.2)};\addlegendentry{Monocillium}
\addplot[bb=c54] coordinates {(0,0.02)(1,0.1)(2,0.1)};\addlegendentry{Epicoccum}
\addplot[bb=c55] coordinates {(0,0.02)(1,0.2)(2,0.2)};\addlegendentry{Metarhizium}
\addplot[bb=c56] coordinates {(0,0.02)(1,0.1)(2,0.1)};\addlegendentry{Pyrenochaetopsis}
\addplot[bb=c57] coordinates {(0,0.02)(1,0.1)(2,0.1)};\addlegendentry{Thielavia}
\addplot[bb=c58] coordinates {(0,1.6)(1,7.6)(2,4.6)};\addlegendentry{Others}
\addplot[bb=c59] coordinates {(0,28.06)(1,52.2)(2,10.7)};\addlegendentry{Unclassified}
\end{axis}
\node[font=\panelfont\bfseries\fontsize{20}{24}\selectfont, inner sep=0pt] at (22pt,-19pt) {(a)};
\node[font=\panelfont\bfseries\fontsize{20}{24}\selectfont, inner sep=0pt] at (205pt,-355pt) {(b)};
\node[font=\panelfont\bfseries\fontsize{20}{24}\selectfont, inner sep=0pt] at (706pt,-361pt) {(c)};
\end{tikzpicture}
\end{document}
